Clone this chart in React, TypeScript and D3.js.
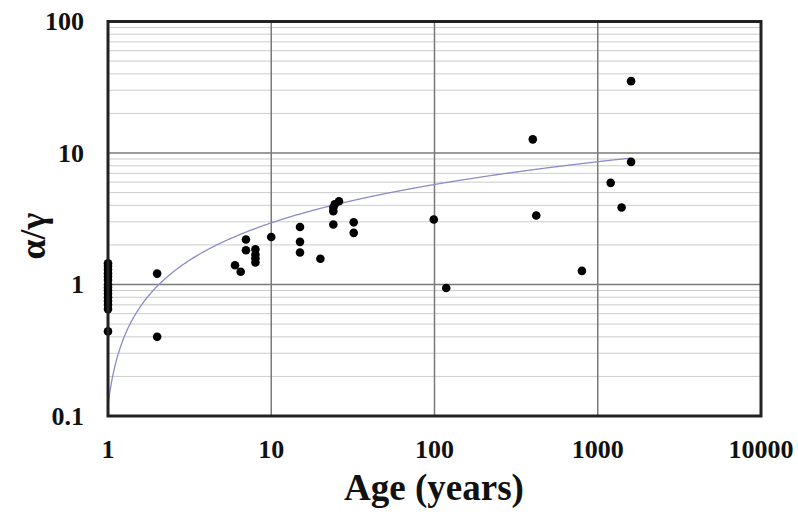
import React from "react";
import * as d3 from "d3";

// scatter values (age in years, alpha/gamma ratio)
const ages = [
  1, 1, 1, 1, 1, 1, 1, 1, 1, 1, 1, 1, 1, 1, 1,
  2, 2,
  6, 6.5, 7, 7, 8, 8, 8, 8, 10,
  15, 15, 15, 20, 24, 24, 24, 24.5, 26, 32, 32,
  99, 118, 400, 420, 800, 1200, 1400, 1600, 1600,
];
const ratios = [
  1.45, 1.38, 1.3, 1.22, 1.15, 1.08, 1.0, 0.95, 0.9, 0.85, 0.8, 0.75, 0.7, 0.65, 0.44,
  1.21, 0.4,
  1.4, 1.25, 2.2, 1.82, 1.85, 1.69, 1.58, 1.47, 2.3,
  2.74, 2.11, 1.75, 1.57, 2.86, 3.61, 3.85, 4.08, 4.3, 2.97, 2.47,
  3.12, 0.94, 12.7, 3.35, 1.27, 5.93, 3.85, 35.2, 8.56,
];

// logarithmic trendline y = a*ln(x) + b, coefficients
const trendA = 1.225;
const trendB = 0.12;
const trendEnd = 1600;

const xTicks = [1, 10, 100, 1000, 10000];
const yTicks = [0.1, 1, 10, 100];

export default function App() {
  const width = 798;
  const height = 512;
  const plot = { left: 108, right: 761, top: 21.5, bottom: 416 };

  const xScale = d3.scaleLog().domain([1, 10000]).range([plot.left, plot.right]);
  const yScale = d3.scaleLog().domain([0.1, 100]).range([plot.bottom, plot.top]);

  const minorY: number[] = [];
  [0.1, 1, 10].forEach((d) => {
    for (let k = 2; k <= 9; k++) minorY.push(d * k);
  });

  const trendX = d3.range(0, Math.log10(trendEnd) + 1e-9, 0.005).map((e) => Math.pow(10, e));
  const trendLine = d3
    .line<number>()
    .x((d) => xScale(d))
    .y((d) => yScale(Math.max(0.1, trendA * Math.log(d) + trendB)));

  const font = "'Liberation Serif', 'Times New Roman', serif";

  return (
    <svg width={width} height={height} style={{ position: "absolute", left: 0, top: 0 }}>
      <rect width={width} height={height} fill="#fff" />
      <g>
        {minorY.map((t) => (
          <line key={"m" + t} x1={plot.left} x2={plot.right} y1={yScale(t)} y2={yScale(t)} stroke="#cccccc" strokeWidth={1} />
        ))}
        {yTicks.map((t) => (
          <line key={"y" + t} x1={plot.left} x2={plot.right} y1={yScale(t)} y2={yScale(t)} stroke="#7a7a7a" strokeWidth={1.5} />
        ))}
        {xTicks.map((t) => (
          <line key={"x" + t} x1={xScale(t)} x2={xScale(t)} y1={plot.top} y2={plot.bottom} stroke="#7a7a7a" strokeWidth={1.5} />
        ))}
      </g>
      <path d={trendLine(trendX) || ""} fill="none" stroke="#8c8cc8" strokeWidth={1.3} />
      <g>
        {ages.map((a, i) => (
          <circle key={i} cx={xScale(a)} cy={yScale(ratios[i])} r={4.3} fill="#000" />
        ))}
      </g>
      <rect
        x={plot.left}
        y={plot.top}
        width={plot.right - plot.left}
        height={plot.bottom - plot.top}
        fill="none"
        stroke="#222"
        strokeWidth={3}
      />
      <g fontFamily={font} fontWeight="bold" fontSize={26} fill="#111">
        {yTicks.map((t) => (
          <text key={"yl" + t} x={84} y={yScale(t)} textAnchor="end" dominantBaseline="central">
            {t}
          </text>
        ))}
        {xTicks.map((t) => (
          <text key={"xl" + t} x={xScale(t)} y={458} textAnchor="middle">
            {t}
          </text>
        ))}
      </g>
      <text x={434} y={500} textAnchor="middle" fontFamily={font} fontWeight="bold" fontSize={37} fill="#111">
        Age (years)
      </text>
      <text
        transform={`translate(45, 236) rotate(-90)`}
        textAnchor="middle"
        fontFamily={font}
        fontWeight="bold"
        fontSize={36}
        fill="#111"
      >
        α/γ
      </text>
    </svg>
  );
}
